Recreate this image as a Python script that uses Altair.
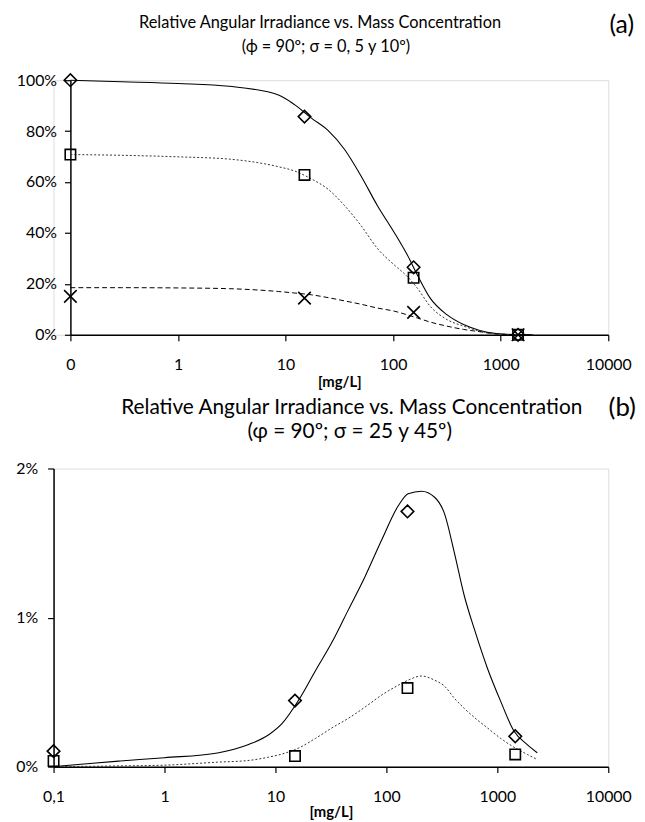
import altair as alt
import pandas as pd

FONT = "Lato"

# ---------------- Panel (a) ----------------
A_X = [0.1, 15, 155, 1450]
A_DIAMOND = [100, 85.7, 26.5, 0]
A_SQUARE = [70.8, 62.8, 22.4, 0]
A_CROSS = [15.1, 14.4, 8.8, 0]

A_FIT_X = [0.1, 0.3, 1, 3, 8.6, 12.2, 17.4, 24.8, 35.4, 50.3, 71.5, 102, 136, 168,
           221, 316, 452, 640, 912, 1300, 2000]
A_FIT_SOLID = [100, 99.4, 98.7, 97.6, 94.2, 90.3, 85.1, 80.3, 72.8, 62.4, 50.7, 40.3,
               31.2, 23.5, 14.4, 7.9, 4.0, 1.7, 0.5, 0.1, 0]
A_FIT_DOTTED = [70.8, 70.5, 69.9, 69.0, 66.0, 64.3, 61.2, 57.2, 50.7, 42.9, 33.9, 27.5,
                22.8, 18.3, 11.2, 6.0, 3.4, 1.4, 0.4, 0.1, 0]
A_FIT_DASHED = [18.5, 18.5, 18.4, 18.1, 17.0, 16.4, 15.7, 14.6, 13.3, 12.0, 10.5, 9.3,
                7.8, 6.6, 5.0, 3.4, 2.1, 1.2, 0.3, 0.05, 0]
A_Y_TICKS = [0, 20, 40, 60, 80, 100]
A_TITLE = ["Relative Angular Irradiance vs. Mass Concentration", "(ϕ = 90º; σ = 0, 5 y 10º)"]

# ---------------- Panel (b) ----------------
B_X = [0.1, 15, 155, 1450]
B_DIAMOND = [0.104, 0.443, 1.712, 0.204]
B_SQUARE = [0.038, 0.071, 0.527, 0.082]

B_FIT_X = [0.1, 0.2, 0.4, 1, 3, 5.8, 8.7, 11.5, 16.3, 23, 32.3, 45.6, 64.3, 90.6, 128,
           157, 207, 272, 334, 411, 505, 621, 817, 1075, 1415, 1862, 2290]
B_FIT_SOLID = [0, 0.02, 0.038, 0.06, 0.092, 0.15, 0.214, 0.29, 0.45, 0.645, 0.834, 1.055,
               1.276, 1.52, 1.75, 1.83, 1.847, 1.807, 1.697, 1.431, 1.143, 0.922, 0.657,
               0.436, 0.237, 0.148, 0.093]
B_FIT_DOTTED = [0, 0.002, 0.005, 0.01, 0.03, 0.042, 0.064, 0.085, 0.126, 0.19, 0.26, 0.325,
                0.4, 0.48, 0.546, 0.58, 0.608, 0.58, 0.54, 0.458, 0.39, 0.33, 0.259,
                0.189, 0.13, 0.082, 0.048]
B_Y_TICKS = [0, 1, 2]
B_TITLE = ["Relative Angular Irradiance vs. Mass Concentration", "(φ = 90º; σ = 25 y 45º)"]

X_TICKS = [0.1, 1, 10, 100, 1000, 10000]

X_PATH = "M-1,-1L1,1M-1,1L1,-1"


def df(xs, ys):
    return pd.DataFrame({"x": xs, "y": ys})


def x_enc(label0, rng, lpad, tpad):
    return alt.X(
        "x:Q",
        scale=alt.Scale(type="log", domain=[0.1, 10000], nice=False, range=rng),
        axis=alt.Axis(
            values=X_TICKS,
            labelExpr=f"datum.value < 1 ? '{label0}' : format(datum.value, 'd')",
            title="[mg/L]", grid=False, domainColor="black", domainWidth=1.5,
            tickColor="black", tickWidth=1.2, tickSize=6, labelFont=FONT, labelFontSize=16,
            labelColor="black", labelPadding=lpad, labelFlush=False, labelOverlap=False,
            labelBound=False, titleFont=FONT, titleFontSize=15, titleFontWeight="bold",
            titleColor="black", titlePadding=tpad,
        ),
    )


def y_enc(domain, ticks, offset, pad):
    return alt.Y(
        "y:Q",
        scale=alt.Scale(domain=domain, nice=False, zero=True),
        axis=alt.Axis(
            values=ticks, labelExpr="datum.value + '%'", title=None, grid=False,
            domainColor="black", domainWidth=1.5, tickColor="black", tickWidth=1.2,
            tickSize=6, labelFont=FONT, labelFontSize=16, labelColor="black",
            labelPadding=pad, offset=offset, labelFlush=False,
        ),
    )


def line(d, xe, ye, dash=None, width=1.1, color="black"):
    kw = dict(interpolate="monotone", color=color, strokeWidth=width)
    if dash:
        kw["strokeDash"] = dash
    return alt.Chart(d).mark_line(**kw).encode(x=xe, y=ye)


def pts(d, xe, ye, shape, size):
    return alt.Chart(d).mark_point(
        shape=shape, filled=False, stroke="black", strokeWidth=1.6, size=size, opacity=1
    ).encode(x=xe, y=ye)


def label(text, x, y, size, align="center"):
    return alt.Chart(pd.DataFrame({"t": [text]})).mark_text(
        font=FONT, fontSize=size, align=align, baseline="middle", color="black"
    ).encode(x=alt.value(x), y=alt.value(y), text="t:N")


# ---- chart a ----
xa = x_enc("0", [17, 560], 16, 2)
ya = y_enc([0, 100], A_Y_TICKS, -17, 8)
chart_a = alt.layer(
    line(df(A_FIT_X, A_FIT_SOLID), xa, ya),
    line(df(A_FIT_X, A_FIT_DOTTED), xa, ya, dash=[2, 2], width=1, color="#333333"),
    line(df(A_FIT_X, A_FIT_DASHED), xa, ya, dash=[5, 3], width=1),
    pts(df(A_X, A_DIAMOND), xa, ya, "diamond", 160),
    pts(df(A_X, A_SQUARE), xa, ya, "square", 110),
    pts(df(A_X, A_CROSS), xa, ya, X_PATH, 160),
    label(A_TITLE[0], 269, -58, 16.5),
    label(A_TITLE[1], 275, -33, 16.5),
    label("(a)", 586, -56, 25, "right"),
).properties(width=560, height=257)

# ---- chart b ----
xb = x_enc("0,1", [0, 560], 16, 0)
yb = y_enc([0, 2], B_Y_TICKS, 0, 10)
chart_b = alt.layer(
    line(df(B_FIT_X, B_FIT_SOLID), xb, yb),
    line(df(B_FIT_X, B_FIT_DOTTED), xb, yb, dash=[2, 2], width=1, color="#333333"),
    pts(df(B_X, B_DIAMOND), xb, yb, "diamond", 160),
    pts(df(B_X, B_SQUARE), xb, yb, "square", 110),
    label(B_TITLE[0], 301, -61, 21),
    label(B_TITLE[1], 299, -37, 21),
    label("(b)", 588, -61, 26, "right"),
).properties(width=560, height=301)

chart = alt.vconcat(chart_a, chart_b, spacing=4).properties(
    padding={"left": 7, "top": 0, "right": 0, "bottom": 0}
).configure_view(stroke=None).configure(background="white")

chart.save("out.html", embed_options={"renderer": "svg", "actions": False})
